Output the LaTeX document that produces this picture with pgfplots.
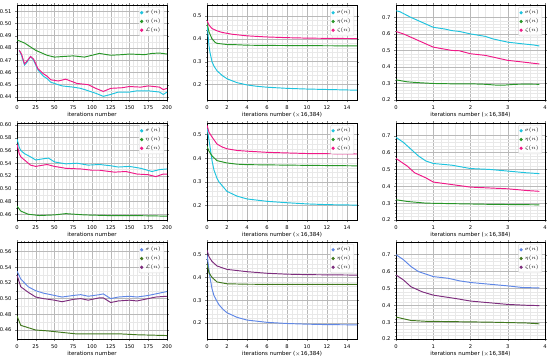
\documentclass[border=0pt]{standalone}
\usepackage{pgfplots}
\pgfplotsset{compat=1.18}
\usepackage{fontspec}
\setmainfont{DejaVu Sans}
\definecolor{cc}{RGB}{30,195,222}
\definecolor{gg}{RGB}{40,150,40}
\definecolor{pp}{RGB}{240,25,135}
\definecolor{bb}{RGB}{95,135,230}
\definecolor{dg}{RGB}{65,120,30}
\definecolor{pu}{RGB}{125,45,125}
\pgfplotsset{
  base/.style={scale only axis, anchor=north west,
    /pgf/number format/assume math mode=true,
    tick label style={font=\fontsize{5.2}{6}\selectfont},
    label style={font=\fontsize{5.5}{6}\selectfont},
    xlabel style={yshift=4pt},
    tick align=outside, major tick length=2pt, minor tick length=1pt,
    axis line style={line width=0.6pt},
    grid=both, major grid style={gray!55, line width=0.45pt},
    minor grid style={gray!18, line width=0.3pt},
    legend pos=north east,
    legend style={font=\fontsize{4.5}{5}\selectfont, draw=gray!30, rounded corners=1pt, fill=white, fill opacity=0.85, text opacity=1, inner sep=1pt, row sep=-0.5pt, at={(0.98,0.98)}},
    legend image code/.code={\fill[##1] (0.15cm,0) circle (1.1pt);},
    every axis plot/.append style={line width=0.95pt, mark=none},
  },
  c1/.style={base, width=150pt, xmin=0, xmax=200, xtick={0,25,...,200}, minor x tick num=4, minor y tick num=1,
    xlabel={iterations number},
    yticklabel style={/pgf/number format/.cd, fixed, fixed zerofill, precision=2}},
  c2/.style={base, width=150pt, xmin=0, xmax=15, xtick={0,2,...,14}, minor x tick num=3, minor y tick num=4,
    xlabel={iterations number ($\times$16,384)}, ytick={0.2,0.3,0.4,0.5},
    yticklabel style={/pgf/number format/.cd, fixed, fixed zerofill, precision=1}},
  c3/.style={base, width=149pt, xmin=0, xmax=4, xtick={0,1,2,3,4}, minor x tick num=4, minor y tick num=4,
    xlabel={iterations number ($\times$16,384)}, ymin=0.2, ymax=0.775, ytick={0.2,0.3,...,0.7},
    yticklabel style={/pgf/number format/.cd, fixed, fixed zerofill, precision=1}},
}
\begin{document}
\begin{tikzpicture}
\useasboundingbox (0,0) rectangle (550pt,-357pt);
% ---------------- Row 1 ----------------
\begin{axis}[c1, at={(17pt,-5pt)}, height=95pt, ymin=0.4375, ymax=0.515, ytick={0.44,0.45,...,0.51}]
\addplot[cc] coordinates {(3,0.478)(6,0.474)(10,0.466)(13,0.468)(18,0.473)(22,0.470)(28,0.462)(35,0.457)(40,0.455)(45,0.452)(50,0.451)(60,0.449)(75,0.448)(85,0.447)(95,0.445)(105,0.443)(115,0.4405)(125,0.442)(135,0.444)(150,0.444)(160,0.445)(175,0.445)(190,0.444)(195,0.442)(200,0.444)};
\addlegendentry{$\sigma\ (n)$}
\addplot[gg] coordinates {(0,0.4865)(10,0.484)(25,0.478)(40,0.474)(50,0.4725)(62,0.473)(75,0.4735)(90,0.4725)(100,0.474)(110,0.4755)(125,0.474)(140,0.4745)(150,0.475)(170,0.4745)(180,0.4755)(190,0.4758)(200,0.475)};
\addlegendentry{$\eta\ (n)$}
\addplot[pp] coordinates {(3,0.478)(6,0.475)(10,0.467)(13,0.469)(18,0.473)(22,0.471)(28,0.463)(35,0.459)(40,0.457)(45,0.454)(55,0.453)(65,0.4545)(80,0.451)(95,0.450)(105,0.447)(115,0.4445)(125,0.447)(140,0.4475)(150,0.4485)(165,0.448)(175,0.449)(190,0.448)(195,0.446)(200,0.447)};
\addlegendentry{$\mathcal{L}(n)$}
\end{axis}
\begin{axis}[c2, at={(207pt,-5pt)}, height=95pt, ymin=0.132, ymax=0.548]
\addplot[cc] coordinates {(0,0.47)(0.1,0.42)(0.2,0.37)(0.3,0.34)(0.5,0.30)(0.7,0.28)(1,0.26)(1.5,0.24)(2,0.225)(3,0.208)(4,0.198)(5,0.192)(6,0.188)(8,0.183)(10,0.180)(12,0.178)(15,0.175)};
\addlegendentry{$\sigma(n)$}
\addplot[gg] coordinates {(0,0.47)(0.2,0.43)(0.5,0.40)(0.8,0.385)(1,0.38)(2,0.375)(3,0.374)(4,0.372)(6,0.371)(10,0.370)(15,0.369)};
\addlegendentry{$\eta(n)$}
\addplot[pp] coordinates {(0,0.48)(0.2,0.46)(0.5,0.445)(1,0.435)(1.5,0.428)(2.5,0.42)(4,0.413)(6,0.408)(8,0.405)(10,0.403)(12,0.402)(15,0.401)};
\addlegendentry{$\zeta(n)$}
\end{axis}
\begin{axis}[c3, at={(396pt,-5pt)}, height=95pt]
\addplot[cc] coordinates {(0,0.74)(0.1,0.735)(0.4,0.70)(0.7,0.67)(1,0.64)(1.3,0.63)(1.5,0.62)(1.7,0.615)(2,0.60)(2.4,0.585)(2.6,0.57)(3,0.55)(3.4,0.54)(3.7,0.533)(3.85,0.527)};
\addlegendentry{$\sigma(n)$}
\addplot[gg] coordinates {(0,0.322)(0.3,0.31)(0.6,0.305)(1,0.30)(1.5,0.298)(2,0.298)(2.4,0.295)(2.7,0.29)(2.9,0.29)(3.2,0.295)(3.5,0.296)(3.85,0.295)};
\addlegendentry{$\eta(n)$}
\addplot[pp] coordinates {(0,0.615)(0.2,0.60)(0.5,0.57)(0.8,0.54)(1,0.52)(1.3,0.508)(1.5,0.50)(1.7,0.498)(2,0.48)(2.4,0.47)(2.7,0.455)(3,0.44)(3.4,0.43)(3.85,0.418)};
\addlegendentry{$\zeta(n)$}
\end{axis}
% ---------------- Row 2 ----------------
\begin{axis}[c1, at={(17pt,-123pt)}, height=97pt, ymin=0.451, ymax=0.603, ytick={0.46,0.48,...,0.60}]
\addplot[cc] coordinates {(0,0.578)(3,0.565)(5,0.56)(10,0.555)(18,0.55)(25,0.545)(35,0.547)(42,0.548)(50,0.542)(65,0.539)(80,0.540)(95,0.537)(110,0.538)(125,0.536)(135,0.534)(150,0.535)(165,0.532)(180,0.527)(190,0.530)(200,0.531)};
\addlegendentry{$\sigma\ (n)$}
\addplot[gg] coordinates {(0,0.473)(5,0.465)(15,0.460)(30,0.458)(50,0.459)(65,0.461)(90,0.459)(120,0.458)(150,0.458)(180,0.4575)(200,0.457)};
\addlegendentry{$\eta\ (n)$}
\addplot[pp] coordinates {(0,0.57)(3,0.555)(5,0.55)(10,0.545)(18,0.537)(25,0.535)(40,0.538)(50,0.535)(65,0.532)(85,0.531)(100,0.529)(110,0.529)(130,0.526)(145,0.527)(160,0.523)(175,0.522)(185,0.519)(195,0.523)(200,0.523)};
\addlegendentry{$\mathcal{L}(n)$}
\end{axis}
\begin{axis}[c2, at={(207pt,-123pt)}, height=97pt, ymin=0.139, ymax=0.549]
\addplot[cc] coordinates {(0,0.53)(0.15,0.49)(0.3,0.45)(0.5,0.39)(0.7,0.35)(1,0.315)(1.2,0.30)(1.6,0.28)(2,0.26)(3,0.24)(4,0.228)(6,0.218)(8,0.212)(10,0.207)(12,0.204)(15,0.202)};
\addlegendentry{$\sigma(n)$}
\addplot[gg] coordinates {(0,0.45)(0.2,0.43)(0.5,0.41)(1,0.39)(2,0.38)(3,0.375)(4,0.373)(6,0.372)(10,0.370)(15,0.368)};
\addlegendentry{$\eta(n)$}
\addplot[pp] coordinates {(0,0.54)(0.2,0.51)(0.5,0.49)(1,0.46)(1.5,0.448)(2,0.44)(3,0.433)(4,0.43)(6,0.425)(10,0.42)(15,0.418)};
\addlegendentry{$\zeta(n)$}
\end{axis}
\begin{axis}[c3, at={(396pt,-123pt)}, height=97pt]
\addplot[cc] coordinates {(0,0.69)(0.2,0.66)(0.4,0.62)(0.6,0.58)(0.8,0.55)(1,0.535)(1.5,0.525)(2,0.505)(2.5,0.50)(3,0.49)(3.5,0.48)(3.85,0.475)};
\addlegendentry{$\sigma(n)$}
\addplot[gg] coordinates {(0,0.32)(0.3,0.31)(0.8,0.30)(1.5,0.297)(2.5,0.293)(3.85,0.29)};
\addlegendentry{$\eta(n)$}
\addplot[pp] coordinates {(0,0.565)(0.3,0.52)(0.5,0.48)(0.8,0.45)(1,0.425)(1.5,0.41)(2,0.395)(2.5,0.39)(3,0.385)(3.5,0.375)(3.85,0.37)};
\addlegendentry{$\zeta(n)$}
\end{axis}
% ---------------- Row 3 ----------------
\begin{axis}[c1, at={(17pt,-242pt)}, height=97pt, ymin=0.4486, ymax=0.572, ytick={0.46,0.48,...,0.56}]
\addplot[bb] coordinates {(0,0.535)(5,0.525)(15,0.515)(25,0.51)(35,0.507)(50,0.504)(60,0.502)(75,0.504)(85,0.505)(95,0.503)(110,0.505)(115,0.506)(125,0.500)(135,0.502)(150,0.503)(160,0.502)(175,0.504)(185,0.506)(195,0.508)(200,0.509)};
\addlegendentry{$\sigma\ (n)$}
\addplot[dg] coordinates {(0,0.478)(5,0.466)(15,0.463)(25,0.460)(40,0.459)(60,0.457)(80,0.455)(100,0.455)(125,0.455)(140,0.455)(160,0.454)(180,0.4535)(200,0.453)};
\addlegendentry{$\eta\ (n)$}
\addplot[pu] coordinates {(0,0.53)(5,0.515)(15,0.508)(25,0.502)(35,0.500)(50,0.498)(60,0.496)(75,0.499)(85,0.500)(95,0.498)(110,0.501)(115,0.501)(125,0.495)(135,0.497)(150,0.498)(160,0.497)(175,0.500)(185,0.502)(200,0.503)};
\addlegendentry{$\mathcal{L}(n)$}
\end{axis}
\begin{axis}[c2, at={(207pt,-242pt)}, height=97pt, ymin=0.13, ymax=0.555]
\addplot[bb] coordinates {(0,0.50)(0.15,0.45)(0.3,0.40)(0.5,0.35)(0.7,0.32)(1,0.295)(1.2,0.28)(1.6,0.26)(2,0.245)(3,0.225)(4,0.213)(6,0.203)(8,0.198)(10,0.195)(12,0.193)(15,0.192)};
\addlegendentry{$\sigma(n)$}
\addplot[dg] coordinates {(0,0.46)(0.2,0.42)(0.5,0.40)(1,0.38)(2,0.372)(4,0.370)(8,0.369)(15,0.369)};
\addlegendentry{$\eta(n)$}
\addplot[pu] coordinates {(0,0.52)(0.2,0.49)(0.5,0.47)(1,0.45)(2,0.435)(4,0.425)(6,0.418)(8,0.414)(10,0.412)(15,0.41)};
\addlegendentry{$\zeta(n)$}
\end{axis}
\begin{axis}[c3, at={(396pt,-242pt)}, height=97pt]
\addplot[bb] coordinates {(0,0.70)(0.2,0.67)(0.4,0.63)(0.6,0.60)(0.8,0.585)(1,0.57)(1.4,0.56)(1.7,0.545)(2,0.535)(2.5,0.525)(3,0.515)(3.4,0.505)(3.85,0.503)};
\addlegendentry{$\sigma(n)$}
\addplot[dg] coordinates {(0,0.33)(0.2,0.32)(0.4,0.31)(0.8,0.305)(1.5,0.303)(2.5,0.30)(3.5,0.295)(3.85,0.29)};
\addlegendentry{$\eta(n)$}
\addplot[pu] coordinates {(0,0.58)(0.2,0.55)(0.4,0.51)(0.7,0.48)(1,0.46)(1.3,0.45)(1.6,0.44)(2,0.425)(2.5,0.415)(3,0.405)(3.5,0.40)(3.85,0.398)};
\addlegendentry{$\zeta(n)$}
\end{axis}
\end{tikzpicture}
\end{document}
